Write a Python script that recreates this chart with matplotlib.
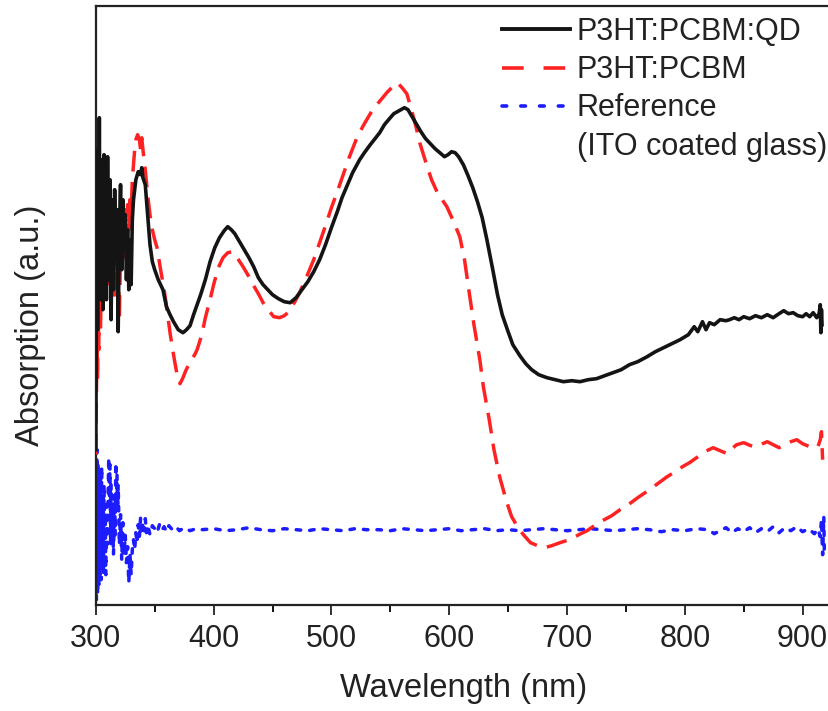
import matplotlib
matplotlib.use("Agg")
import matplotlib.pyplot as plt
from matplotlib.lines import Line2D

plt.rcParams['font.family'] = ['Liberation Sans', 'DejaVu Sans']

# ---------------- data (arbitrary absorption units) ----------------
qd_wl = [300, 300.5, 301, 301.5, 302, 302.5, 303, 303.5, 304, 304.5, 305, 306, 307, 307.5, 308, 309, 310,
         311, 312, 313, 314, 315, 316, 317, 318, 319, 320, 321, 322, 323, 324, 325, 326, 327, 328, 329,
         330, 331, 332, 334, 336, 338, 339, 340, 342, 344, 346, 348, 350, 353, 357, 360, 363, 366, 370,
         374, 377, 380, 383, 386, 389, 393, 397, 401, 405, 409, 412, 415, 418, 422, 426, 430, 434, 438,
         442, 446, 450, 455, 460, 465, 470, 475, 480, 485, 490, 495, 500, 505, 509, 513, 518, 524, 528,
         533, 537, 541, 545, 550, 553, 556, 559, 562, 565, 568, 572, 576, 580, 584, 588, 592, 596, 599,
         602, 605, 608, 612, 616, 620, 624, 628, 632, 637, 641, 645, 650, 654, 660, 665, 670, 676, 683,
         690, 697, 704, 711, 718, 725, 732, 739, 746, 753, 760, 768, 775, 782, 789, 796, 803, 808, 811,
         815, 818, 821, 825, 830, 835, 838, 842, 846, 850, 855, 860, 865, 870, 875, 880, 884, 888, 892,
         896, 900, 903, 906, 909, 912, 914, 915, 915.5, 916, 916.5]
qd_abs = [155, 305, 405, 275, 455, 325, 487, 315, 435, 305, 445, 295, 450, 315, 435, 305, 448,
          325, 425, 285, 405, 315, 415, 345, 395, 273, 375, 420, 335, 405, 355, 390, 325, 375, 315, 365,
          320, 385, 405, 425, 433, 430, 437, 427, 420, 390, 360, 343, 335, 325, 315, 298, 290, 283, 275,
          272, 275, 279, 290, 300, 310, 325, 343, 357, 367, 374, 378, 375, 371, 363, 355, 347, 338, 327,
          320, 315, 310, 306, 303, 302, 307, 315, 323, 333, 345, 360, 377, 393, 407, 418, 432, 445, 452,
          460, 466, 472, 480, 487, 491, 493, 495, 497, 495, 489, 481, 473, 466, 461, 456, 452, 448, 450,
          453, 452, 448, 440, 429, 417, 403, 387, 365, 335, 310, 290, 273, 260, 249, 241, 235, 230, 227,
          225, 223, 224, 223, 225, 226, 229, 232, 235, 240, 243, 248, 253, 257, 261, 265, 270, 278, 273,
          283, 275, 282, 280, 285, 284, 285, 287, 285, 288, 286, 289, 287, 290, 287, 291, 294, 291, 292,
          289, 288, 291, 288, 292, 287, 291, 300, 272, 295, 280]

pc_wl = [300, 300.5, 301, 301.5, 302, 302.5, 303, 304, 305, 306, 307, 308, 309, 310, 311, 312, 313,
         314, 315, 316, 317, 318, 319, 320, 321, 322, 323, 324, 325, 326, 327, 328, 329, 330, 331, 332,
         333, 334, 335.5, 337, 338, 339, 340, 342, 344, 346, 348, 350, 352, 355, 358, 361, 363, 365, 367,
         369, 371.5, 374, 376, 378, 381, 384, 386, 390, 393, 397, 400, 404, 408, 412, 416, 420, 425, 430,
         434, 438, 442, 447, 451, 456, 460, 464, 469, 473, 479, 485, 490, 495, 500, 505, 510, 515, 522,
         528, 534, 540, 547, 552, 556, 560, 564, 568, 572, 575, 580, 585, 590, 594, 598, 603, 609, 613,
         617, 621, 626, 629, 634, 638, 643, 649, 653, 658, 663, 669, 675, 681, 687, 694, 702, 710, 717,
         722, 730, 738, 745, 752, 760, 770, 778, 785, 792, 798, 804, 810, 817, 824, 830, 836, 840, 844,
         850, 856, 861, 866, 870, 875, 880, 885, 890, 895, 900, 906, 910, 913, 915, 916, 917]
pc_abs = [150, 205, 265, 225, 305, 255, 325, 275, 355, 305, 375, 325, 380, 315, 365, 330, 375,
          315, 355, 305, 365, 335, 345, 285, 355, 335, 370, 345, 395, 365, 400, 375, 405, 390, 425, 440,
          455, 465, 470, 465, 455, 467, 455, 435, 410, 390, 375, 365, 357, 335, 315, 290, 272, 257, 243,
          230, 221, 227, 233, 238, 245, 250, 255, 270, 287, 305, 320, 337, 347, 352, 353, 347, 338, 328,
          319, 311, 302, 294, 288, 287, 289, 293, 303, 312, 328, 345, 362, 379, 397, 413, 430, 447, 468,
          481, 493, 502, 512, 518, 522, 517, 511, 495, 477, 462, 443, 425, 412, 405, 398, 385, 368, 345,
          312, 280, 245, 218, 185, 155, 127, 102, 88, 78, 70, 62, 59, 57, 59, 62, 65, 70, 74,
          78, 84, 89, 95, 100, 107, 115, 122, 128, 133, 138, 142, 147, 153, 157, 154, 151, 156, 160,
          162, 159, 158, 161, 163, 160, 157, 160, 163, 165, 161, 158, 159, 158, 165, 173, 145]

ref_wl = [300, 300.5, 301, 301.5, 302, 302.5, 303, 303.5, 304, 304.5, 305, 305.5, 306, 306.5, 307,
          307.5, 308, 308.5, 309, 309.5, 310, 311, 311.5, 312, 312.5, 313, 313.5, 314, 315, 316, 316.5,
          317, 317.5, 318, 318.5, 319, 320, 321, 322, 323, 324, 325, 326, 327, 328, 329, 330, 331, 332,
          333, 334, 335, 336, 337, 338, 339, 340, 341, 342, 343, 344, 346, 348, 350, 352, 354, 356, 358,
          360, 362, 365, 368, 371, 375, 380, 385, 390, 400, 410, 420, 430, 440, 450, 460, 470, 480, 490,
          500, 510, 520, 530, 540, 550, 560, 570, 580, 590, 600, 610, 620, 630, 640, 650, 660, 670, 680,
          690, 700, 710, 720, 730, 740, 750, 760, 770, 780, 790, 800, 810, 820, 825, 830, 835, 840, 845,
          850, 855, 860, 865, 870, 875, 880, 885, 890, 895, 900, 905, 910, 913, 915, 916, 917, 918, 918.5]
ref_abs = [100, 5, 155, 10, 140, 20, 120, 30, 135, 25, 138, 40, 110, 30, 120,
           50, 90, 30, 100, 60, 80, 147, 100, 140, 60, 120, 70, 100, 50, 110, 70,
           142, 100, 130, 95, 120, 60, 90, 45, 82, 50, 70, 42, 58, 22, 50, 30, 55, 65,
           55, 72, 62, 80, 68, 87, 70, 82, 74, 86, 72, 80, 70, 79, 76, 72, 80, 74, 78,
           73, 79, 75, 78, 74, 77, 74, 76, 75, 76, 74, 75, 77, 75, 74, 76, 75, 74, 76,
           75, 74, 76, 75, 75, 74, 76, 75, 74, 75, 76, 74, 75, 76, 74, 75, 74, 75, 76,
           75, 74, 75, 76, 75, 74, 75, 76, 75, 73, 75, 74, 76, 75, 71, 74, 77, 72, 76,
           73, 77, 72, 76, 73, 78, 72, 77, 74, 78, 73, 76, 71, 76, 68, 85, 50, 88, 48]

labels = ["P3HT:PCBM:QD", "P3HT:PCBM", "Reference", "(ITO coated glass)"]
xticks = [300, 400, 500, 600, 700, 800, 900]

RED = '#ff2222'
BLUE = '#1c1cff'
BLACK = '#141414'

# ---------------- figure ----------------
W, H = 829, 711
fig = plt.figure(figsize=(W / 100, H / 100), dpi=100)
ax_left, ax_right, ax_top, ax_bot = 95.8, 829, 6, 604.7
ax = fig.add_axes([ax_left / W, 1 - ax_bot / H, (ax_right - ax_left) / W, (ax_bot - ax_top) / H])

ax.plot(ref_wl, ref_abs, color=BLUE, lw=2.5, dashes=(1.3, 2.6), dash_capstyle='round', zorder=2)
ax.plot(pc_wl, pc_abs, color=RED, lw=2.5, dashes=(6, 3), zorder=3)
ax.plot(qd_wl, qd_abs, color=BLACK, lw=2.6, zorder=4)

ax.set_xlim(300, 300 + (ax_right - ax_left) / 1.178)
ax.set_ylim(0, ax_bot - ax_top)
ax.set_xticks(xticks)
ax.set_xticklabels([str(t) for t in xticks])
ax.set_xticks([350, 450, 550, 650, 750, 850], minor=True)
ax.set_yticks([])
ax.tick_params(axis='x', which='major', direction='out', length=7, width=1.3, labelsize=22, pad=7,
               colors='#222222')
ax.tick_params(axis='x', which='minor', direction='out', length=5, width=1.3)
for s in ['left', 'bottom', 'top']:
    ax.spines[s].set_linewidth(1.6)
    ax.spines[s].set_color('#222222')
ax.spines['right'].set_visible(False)

fig.text(464 / W, 1 - 689 / H, "Wavelength (nm)", ha='center', va='center', fontsize=23.5, color='#222222')
fig.text(31 / W, 1 - 325 / H, "Absorption (a.u.)", ha='center', va='center', rotation=90,
         fontsize=23.5, color='#222222')

handles = [
    Line2D([], [], color=BLACK, lw=2.8),
    Line2D([], [], color=RED, lw=2.6, dashes=(6, 5.5)),
    Line2D([], [], color=BLUE, lw=2.6, dashes=(1.3, 3.9), dash_capstyle='round'),
    Line2D([], [], color='none', lw=0),
]
leg = ax.legend(handles, labels, loc='upper left', bbox_to_anchor=(502 / W, 1 - 17 / H),
                bbox_transform=fig.transFigure, frameon=False, fontsize=22, handlelength=2.22,
                handletextpad=0.22, labelspacing=0.27, borderpad=0, borderaxespad=0)
for t in leg.get_texts():
    t.set_color('#222222')

fig.savefig("out.png", dpi=100)
